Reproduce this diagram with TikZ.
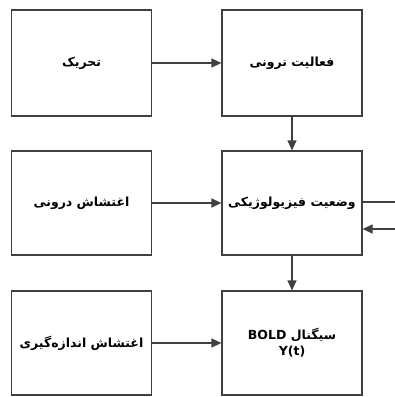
\documentclass[tikz,border=0pt]{standalone}
\usepackage{fontspec}
\newfontfamily\arabicfont[Script=Arabic]{DejaVu Sans}
\setsansfont{DejaVu Sans}
\TeXXeTstate=1
\usetikzlibrary{arrows.meta, calc, positioning}
\tikzset{
	lines/.style={draw=black!75, line width=1.2pt},
	flow/.style={lines, -{Triangle[length=10pt, width=9pt]}},
	block/.style={
		rectangle, lines,
		minimum width=140pt, minimum height=104pt,
		inner sep=2pt,
		font=\arabicfont\bfseries\fontsize{12.5}{16}\selectfont,
		text=black,
		align=center
	}
}

\begin{document}
\begin{tikzpicture}[x=1pt,y=-1pt]
	\useasboundingbox (0,0) rectangle (395,397);

	\node[block, minimum height=106pt]	(stim)		at (81.5,63)	{\beginR تحریک\endR};
	\node[block, minimum height=106pt]	(neural)	at (292,63)		{\beginR فعالیت نرونی\endR};
	\node[block]	(noiseIn)	at (81.5,203)		{\beginR اغتشاش درونی\endR};
	\node[block]	(physio)	at (292,203)		{\beginR وضعیت فیزیولوژیکی\endR};
	\node[block]	(noiseMes)	at (81.5,343)		{\beginR اغتشاش اندازه‌گیری\endR};
	\node[block]	(bold)		at (292,343)		{\beginR سیگنال \beginL\sffamily BOLD\endL\endR\\{\sffamily Y(t)}};

	\coordinate (outA) at (395,202);
	\coordinate (outB) at (395,229);

	\draw[flow]	(stim)		--	(neural);
	\draw[flow]	(noiseIn)	--	(physio);
	\draw[flow]	(noiseMes)	--	(bold);
	\draw[flow]	(neural)	--	(physio);
	\draw[flow]	(physio)	--	(bold);
	\draw[lines]	(physio.east |- outA)	--	(outA);
	\draw[flow]	(outB)	--	(physio.east |- outB);
\end{tikzpicture}
\end{document}
